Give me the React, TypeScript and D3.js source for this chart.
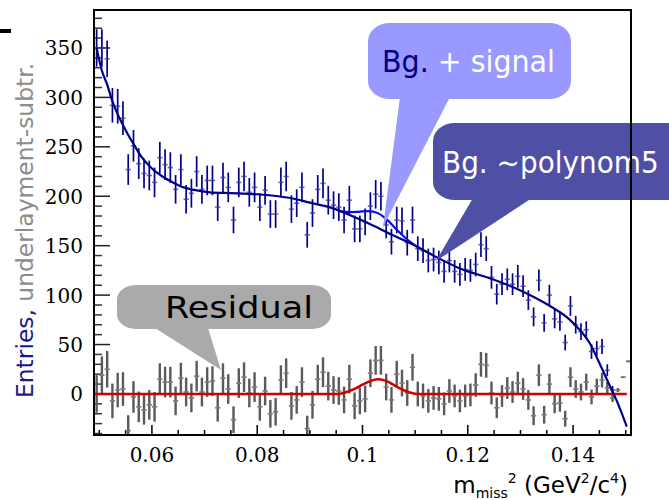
import React from "react";
import * as d3 from "d3";

// ---- data ----
const BIN_START = 0.049;
const BIN_WIDTH = 0.001;

const dataVals = [
  350, 350, 339, 292, 291, 279, 227, 251, 233, 223,
  221, 214, 239, 232, 229, 207, 227, 197, 203, 225,
  207, 216, 216, 189, 219, 209, 176, 214, 220, 204,
  209, 189, 206, 182, 182, 214, 220, 187, 193, 209,
  161, 183, 207, 213, 196, 191, 189, 176, 196, 167,
  167, 174, 190, 202, 200, 171, 154, 176, 175, 153,
  176, 147, 145, 135, 136, 133, 124, 135, 124, 121,
  126, 125, 131, 151, 147, 118, 101, 111, 116, 111,
  119, 109, 95, 78, 115, 72, 100, 76, 73, 52,
  89, 70, 63, 65, 43, 46, 48, 24, 4,
];
const dataErr = [
  19, 19, 18.5, 17.5, 17.5, 17, 15.5, 16, 15.5, 15,
  15, 15, 16, 15.5, 15.5, 14.5, 15.5, 14.5, 14.5, 15.5,
  14.5, 15, 15, 14, 15, 15, 13.5, 15, 15, 14.5,
  15, 14, 14.5, 14, 14, 15, 15, 14, 14, 15,
  13, 14, 14.5, 15, 14.5, 14, 14, 13.5, 14.5, 13.5,
  13.5, 13.5, 14, 14.5, 14.5, 13.5, 13, 13.5, 13.5, 13,
  13.5, 12.5, 12.5, 12, 12, 12, 11.5, 12, 11.5, 11.5,
  11.5, 11.5, 12, 12.5, 12.5, 11.5, 10.5, 11, 11, 11,
  11.5, 11, 10, 9.5, 11, 9, 10.5, 9.5, 9, 8,
  10, 9, 8.5, 8.5, 7.5, 7.5, 7.5, 6, 4,
];
const resVals = [
  0, 19, 25, -7, 4, 5, -37, -3, -13, -16,
  -11, -13, 15, 12, 12, -7, 16, 2, -4, 18,
  2, 12, 13, -14, 16, 5, -26, 11, 17, 1,
  7, -13, 3, -20, -18, 14, 21, -12, -6, 12,
  -35, -11, 15, 22, 8, 4, 3, -6, 15, -12,
  -7, -5, 21, 34, 34, 7, -6, 20, 11, 1,
  27, 0, -2, -7, -4, -5, -10, 3, -2, -7,
  -2, -1, 9, 30, 29, 1, -14, -2, 6, 2,
  11, 5, -6, -22, 19, -21, 10, -10, -9, -25,
  17, 5, 2, 12, -3, 8, 14, 6, -4, 4,
  17, 33,
];
const resErr = [...dataErr, 2, 1, 1];

// background fit (polynom5)
const bgX = [
  0.0495, 0.0505, 0.0515, 0.0525, 0.0535, 0.0545, 0.0555, 0.0565, 0.058, 0.06,
  0.062, 0.064, 0.066, 0.068, 0.071, 0.075, 0.08, 0.084, 0.087, 0.09,
  0.094, 0.098, 0.102, 0.106, 0.11, 0.114, 0.1185, 0.1242, 0.1299, 0.1356,
  0.1394, 0.1407, 0.1432, 0.1451, 0.147, 0.1483, 0.1502,
];
const bgY = [
  350, 327, 313, 296, 283, 272, 262, 253, 240, 228,
  220, 214, 209, 206.4, 204, 203.2, 202, 200, 197.5, 193.5,
  188.5, 180, 170.5, 160, 150, 138.5, 127, 117, 105, 89,
  75, 68, 51, 30, 8, -7, -33,
];
// signal bump (residual fit, red)
const bumpX = [0.0955, 0.096, 0.097, 0.098, 0.099, 0.1, 0.101, 0.102, 0.103, 0.104, 0.105, 0.106, 0.107, 0.108, 0.109, 0.11, 0.111];
const bumpY = [0, 0.5, 2, 4, 6.5, 9.5, 12, 14, 14.8, 14, 12, 9, 6, 3.5, 1.5, 0.3, 0];

const xMajor = [0.06, 0.08, 0.1, 0.12, 0.14];
const xMajorLabels = ["0.06", "0.08", "0.1", "0.12", "0.14"];
const yMajor = [0, 50, 100, 150, 200, 250, 300, 350];

// ---- layout ----
const W = 669, H = 500;
const L = 94, R = 631, T = 10, B = 435;

export default function App() {
  const x = d3.scaleLinear().domain([0.049, 0.151]).range([L, R]);
  const y = d3.scaleLinear().domain([-41.5, 388.4]).range([B, T]);

  const xMinor = d3.range(0.05, 0.1501, 0.005).filter(
    (v) => !xMajor.some((m) => Math.abs(m - v) < 1e-6)
  );
  const yMinor = d3.range(-40, 381, 10).filter((v) => v % 50 !== 0);

  const bgInterp = (xv: number) => {
    for (let i = 0; i < bgX.length - 1; i++) {
      if (xv >= bgX[i] && xv <= bgX[i + 1]) {
        const t = (xv - bgX[i]) / (bgX[i + 1] - bgX[i]);
        return bgY[i] + t * (bgY[i + 1] - bgY[i]);
      }
    }
    return bgY[bgY.length - 1];
  };

  const line = d3
    .line<[number, number]>()
    .x((d) => x(d[0]))
    .y((d) => y(d[1]))
    .curve(d3.curveMonotoneX);

  const bgPts: [number, number][] = bgX.map((v, i) => [v, bgY[i]]);
  const sigPts: [number, number][] = bumpX.map((v, i) => [v, bgInterp(v) + bumpY[i]]);
  const redPts: [number, number][] = [
    [0.049, 0],
    ...bumpX.map((v, i) => [v, bumpY[i]] as [number, number]),
    [0.1502, 0],
  ];

  const binC = (k: number) => BIN_START + BIN_WIDTH * (k + 0.5);
  const halfBin = (x(BIN_START + BIN_WIDTH) - x(BIN_START)) / 2;

  const sans = "'DejaVu Sans', sans-serif";
  const serif = "'DejaVu Serif', serif";

  return (
    <svg
      width={W}
      height={H}
      viewBox={`0 0 ${W} ${H}`}
      style={{ position: "absolute", left: 0, top: 0, background: "#fff" }}
    >
      <defs>
        <clipPath id="plot">
          <rect x={L} y={T} width={R - L} height={B - T} />
        </clipPath>
      </defs>
      <rect x={0} y={0} width={W} height={H} fill="#fff" />
      <rect x={0} y={29} width={11} height={4} fill="#000" />

      {/* ticks */}
      {yMajor.map((v) => (
        <line key={"ym" + v} x1={L} x2={L + 16} y1={y(v)} y2={y(v)} stroke="#222" strokeWidth={1.5} />
      ))}
      {yMinor.map((v) => (
        <line key={"yn" + v} x1={L} x2={L + 8} y1={y(v)} y2={y(v)} stroke="#333" strokeWidth={1.5} />
      ))}
      {xMajor.map((v) => (
        <line key={"xm" + v} x1={x(v)} x2={x(v)} y1={B} y2={B - 10} stroke="#000" strokeWidth={1.5} />
      ))}
      {xMinor.map((v) => (
        <line key={"xn" + v} x1={x(v)} x2={x(v)} y1={B} y2={B - 5} stroke="#000" strokeWidth={1.5} />
      ))}

      {/* tick labels */}
      {yMajor.map((v) => (
        <text key={"yl" + v} x={83} y={y(v) + 7.5} textAnchor="end" fontFamily={serif} fontSize={20} fill="#000">
          {v}
        </text>
      ))}
      {xMajor.map((v, i) => (
        <text key={"xl" + v} x={x(v)} y={462} textAnchor="middle" fontFamily={serif} fontSize={20} fill="#000">
          {xMajorLabels[i]}
        </text>
      ))}

      <g clipPath="url(#plot)">
        {/* residual points */}
        {resVals.map((v, k) => (
          <g key={"r" + k}>
            <line x1={x(binC(k))} x2={x(binC(k))} y1={y(v - resErr[k])} y2={y(v + resErr[k])} stroke="#5a5a5a" strokeWidth={2.4} />
            <line x1={x(binC(k)) - halfBin} x2={x(binC(k)) + halfBin} y1={y(v)} y2={y(v)} stroke="#7a7a7a" strokeWidth={1.6} />
          </g>
        ))}
        {/* red residual fit */}
        <path d={line(redPts) || ""} fill="none" stroke="#d00000" strokeWidth={2.5} />

        {/* data points */}
        {dataVals.map((v, k) => (
          <g key={"d" + k}>
            <line x1={x(binC(k))} x2={x(binC(k))} y1={y(v - dataErr[k])} y2={y(v + dataErr[k])} stroke="#00008c" strokeWidth={1.7} />
            <line x1={x(binC(k)) - halfBin} x2={x(binC(k)) + halfBin} y1={y(v)} y2={y(v)} stroke="#3a3a9a" strokeOpacity={0.75} strokeWidth={1.6} />
          </g>
        ))}
        {/* fits */}
        <path d={line(sigPts) || ""} fill="none" stroke="#0a0af5" strokeWidth={2.2} />
        <path d={line(bgPts) || ""} fill="none" stroke="#000088" strokeWidth={2.2} />
      </g>

      {/* callouts */}
      <g>
        <rect x={117} y={285} width={214} height={44} rx={20} ry={14} fill="#aaaaaa" />
        <polygon points="155,328 208,328 221,370" fill="#aaaaaa" />
        <text x={165} y={318} fontFamily={sans} fontSize={30} textLength={148} lengthAdjust="spacingAndGlyphs" fill="#000">
          Residual
        </text>
      </g>
      <g>
        <rect x={368} y={23} width={203} height={76} rx={22} ry={18} fill="#9999ff" />
        <polygon points="400,97 450,97 383,227" fill="#9999ff" />
        <text x={382} y={72} fontFamily={sans} fontSize={31} textLength={173} lengthAdjust="spacingAndGlyphs">
          <tspan fill="#000080">Bg.</tspan>
          <tspan fill="#ffffff"> + signal</tspan>
        </text>
      </g>
      <g>
        <rect x={433} y={123} width={260} height={77} rx={22} ry={18} fill="#4f4fa6" />
        <polygon points="473,198 532,198 436,261" fill="#4f4fa6" />
        <text transform="translate(442,173) scale(0.9,1)" fontFamily={sans} fontSize={31} fill="#ffffff">
          Bg. ~polynom5
        </text>
      </g>

      {/* frame */}
      <rect x={L} y={T} width={R - L} height={B - T} fill="none" stroke="#000" strokeWidth={2} />

      {/* axis titles */}
      <text transform="translate(33,398) rotate(-90)" fontFamily={sans} fontSize={23.4}>
        <tspan fill="#1a1a8c">Entries,</tspan>
        <tspan fill="#8c8c8c"> underlayment-subtr.</tspan>
      </text>
      <text x={628} y={493} textAnchor="end" fontFamily={sans} fontSize={23} fill="#000">
        m
        <tspan fontSize={14} dy={5}>miss</tspan>
        <tspan fontSize={14} dy={-15}>2</tspan>
        <tspan dy={10}> (GeV</tspan>
        <tspan fontSize={14} dy={-10}>2</tspan>
        <tspan dy={10}>/c</tspan>
        <tspan fontSize={14} dy={-10}>4</tspan>
        <tspan dy={10}>)</tspan>
      </text>
    </svg>
  );
}
